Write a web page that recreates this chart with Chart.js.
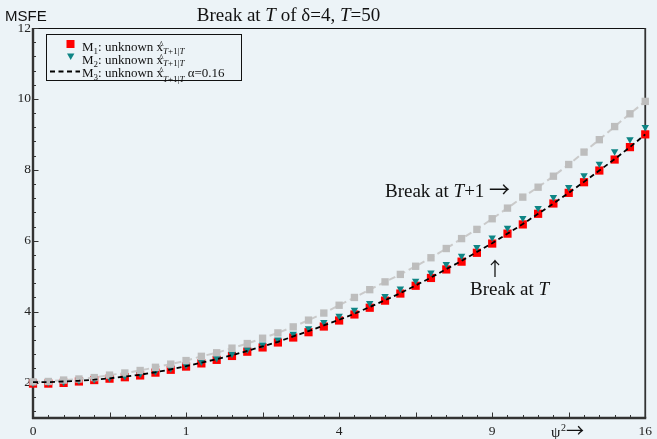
<!DOCTYPE html>
<html><head><meta charset="utf-8">
<script src="https://cdn.jsdelivr.net/npm/chart.js@4"></script>
<style>html,body{margin:0;padding:0;background:#ecf3f7;overflow:hidden}</style>
</head><body>
<canvas id="c" width="657" height="439"></canvas>
<script>
// psi values (x axis is psi, labelled psi^2)
const psi = [0.0,0.1,0.2,0.3,0.4,0.5,0.6,0.7,0.8,0.9,1.0,1.1,1.2,1.3,1.4,1.5,1.6,1.7,1.8,1.9,2.0,
             2.1,2.2,2.3,2.4,2.5,2.6,2.7,2.8,2.9,3.0,3.1,3.2,3.3,3.4,3.5,3.6,3.7,3.8,3.9,4.0];
const xTickPsi = [0,1,2,3,4];
const xTickLabels = ['0','1','4','9','16'];
const yTicks = [2,4,6,8,10,12];
// Break at T+1 (grey)
const breakT1 = [2.02,2.03,2.07,2.10,2.14,2.21,2.27,2.34,2.43,2.52,2.62,2.74,2.84,2.97,3.10,3.25,3.40,3.57,3.76,3.96,4.18,
                 4.40,4.62,4.84,5.05,5.28,5.52,5.78,6.06,6.32,6.62,6.92,7.23,7.51,7.82,8.15,8.50,8.85,9.22,9.58,9.93];
// M1 (red squares)
const m1 = [1.97,1.97,1.99,2.03,2.07,2.11,2.15,2.20,2.28,2.36,2.45,2.54,2.64,2.75,2.87,2.99,3.13,3.27,3.42,3.58,3.75,
            3.92,4.11,4.31,4.51,4.73,4.95,5.19,5.41,5.66,5.92,6.20,6.46,6.76,7.05,7.35,7.65,7.98,8.29,8.64,9.00];
// M2 (teal triangles)
const m2 = [1.99,2.00,2.02,2.05,2.09,2.13,2.18,2.24,2.31,2.40,2.49,2.59,2.69,2.81,2.93,3.07,3.21,3.37,3.53,3.70,3.88,
            4.05,4.24,4.44,4.65,4.87,5.10,5.34,5.57,5.82,6.09,6.36,6.64,6.92,7.23,7.51,7.84,8.17,8.52,8.86,9.20];
// M3 alpha=0.16 (black dashed)
const m3 = [2.01,2.01,2.03,2.05,2.08,2.12,2.17,2.22,2.29,2.37,2.46,2.56,2.66,2.77,2.89,3.02,3.15,3.30,3.45,3.61,3.77,
            3.94,4.13,4.32,4.52,4.74,4.96,5.20,5.43,5.68,5.93,6.20,6.47,6.76,7.05,7.35,7.66,7.98,8.30,8.64,9.00];

const SERIF = '"Liberation Serif", "DejaVu Serif", serif';
const ARROWF = '"Noto Sans CJK JP", "DejaVu Sans", sans-serif';
const toXY = arr => arr.map((v,i)=>({x:psi[i], y:v}));

function setFont(ctx,p){ ctx.font = (p.italic?'italic ':'') + p.size + 'px ' + (p.fam||SERIF); }
function rich(ctx, x, y, parts){
  let cx = x;
  for (const p of parts){
    setFont(ctx,p);
    ctx.fillText(p.t, cx + (p.dx||0), y + (p.dy||0));
    const w = ctx.measureText(p.t).width;
    if (p.hat){
      ctx.save();
      ctx.font = (p.size*0.75) + 'px ' + SERIF;
      ctx.textAlign = 'center';
      ctx.fillText('^', cx + w/2 + 1.5, y + (p.dy||0) - p.size*0.2);
      ctx.restore();
    }
    cx += w + (p.dx||0);
  }
  return cx;
}
function rwidth(ctx, parts){
  let w = 0;
  for (const p of parts){ setFont(ctx,p); w += ctx.measureText(p.t).width; }
  return w;
}
function line(ctx,x1,y1,x2,y2){ctx.beginPath();ctx.moveTo(x1,y1);ctx.lineTo(x2,y2);ctx.stroke();}

const framePlugin = {
  id:'frame',
  beforeDraw(chart){
    const ctx = chart.ctx;
    ctx.save(); ctx.fillStyle='#ecf3f7'; ctx.fillRect(0,0,chart.width,chart.height); ctx.restore();
  },
  beforeDatasetsDraw(chart){
    const {ctx, chartArea:{left,right,top,bottom}} = chart;
    const xs = chart.scales.x, ys = chart.scales.y;
    ctx.save();
    ctx.strokeStyle = '#111'; ctx.lineWidth = 1.2;
    line(ctx, left, top+0.5, right, top+0.5);
    ctx.strokeStyle = '#333'; ctx.lineWidth = 1.8;
    line(ctx, right, top, right, bottom);
    ctx.lineWidth = 2.4;
    line(ctx, left, top, left, bottom+1);
    line(ctx, left-1, bottom, right+1, bottom);
    ctx.lineWidth = 1;
    for (let k=3;k<=30;k++){
      const py = Math.round(ys.getPixelForValue(k*0.4))+0.5;
      const len = (k%5===0)?5.5:3;
      line(ctx, left, py, left+len, py);
    }
    for (let k=1;k<=40;k++){
      const px = Math.round(xs.getPixelForValue(k/10))+0.5;
      const len = (k%5===0)?5.5:3;
      line(ctx, px, bottom, px, bottom-len);
    }
    ctx.restore();
  },
  afterDraw(chart){
    const ctx = chart.ctx;
    ctx.save();
    ctx.fillStyle = '#111'; ctx.textBaseline = 'alphabetic';
    // y axis name
    ctx.font = '15px "Liberation Sans", Arial, sans-serif';
    ctx.fillText('MSFE', 5, 20.5);
    // title
    const tparts = [{t:'Break at ',size:19},{t:'T',size:19,italic:true},{t:' of δ=4, ',size:19},{t:'T',size:19,italic:true},{t:'=50',size:19}];
    const tw = rwidth(ctx,tparts);
    rich(ctx, 288.5 - tw/2, 20.5, tparts);
    // annotations
    rich(ctx, 385, 197, [{t:'Break at ',size:19},{t:'T',size:19,italic:true},{t:'+1 ',size:19},{t:'→',size:21,fam:ARROWF,dy:0}]);
    rich(ctx, 470, 295, [{t:'Break at ',size:19},{t:'T',size:19,italic:true}]);
    ctx.font = '19px ' + ARROWF; ctx.textAlign = 'center';
    ctx.fillText('↑', 495, 276);
    ctx.textAlign = 'left';
    // x axis name
    rich(ctx, 551, 437, [{t:'ψ',size:15}]);
    rich(ctx, 561, 431, [{t:'2',size:10}]);
    rich(ctx, 566, 437, [{t:'→',size:18,fam:ARROWF}]);
    // legend
    ctx.strokeStyle = '#111'; ctx.lineWidth = 1;
    ctx.strokeRect(46.5, 34.5, 195, 46);
    ctx.fillStyle = '#ff0000'; ctx.fillRect(66.5, 40, 8, 8);
    ctx.fillStyle = '#0f8585';
    ctx.beginPath(); ctx.moveTo(67, 53.5); ctx.lineTo(74.4, 53.5); ctx.lineTo(70.7, 60); ctx.closePath(); ctx.fill();
    ctx.strokeStyle='#000'; ctx.lineWidth=1.8; ctx.setLineDash([5,3.5]);
    line(ctx, 50, 71.5, 80, 71.5); ctx.setLineDash([]);
    ctx.fillStyle = '#111';
    const rows = [['1',50.5,3],['2',63.5,2.5],['3',76.5,5.5]];
    rows.forEach(([d,by,sd])=>{
      const parts = [{t:'M',size:13},{t:d,size:9,dy:3},{t:': unknown ',size:13},{t:'x',size:13,hat:true},
                     {t:'T',size:9,italic:true,dy:sd},{t:'+1|',size:9,dy:sd},{t:'T',size:9,italic:true,dy:sd}];
      if (d==='3') parts.push({t:' α=0.16',size:13});
      rich(ctx, 82, by, parts);
    });
    ctx.restore();
  }
};

new Chart(document.getElementById('c'), {
  type:'line',
  data:{
    datasets:[
      {label:'M3', data:toXY(m3), borderColor:'#000', borderWidth:1.8, borderDash:[5,3.5], pointRadius:0, order:0, clip:false},
      {label:'Break at T+1', data:toXY(breakT1), borderColor:'#cacaca', borderWidth:2, borderDash:[7,4],
        pointStyle:'rect', pointRadius:5.2, pointBackgroundColor:'#bdbdbd', pointBorderWidth:0, order:1, clip:false},
      {label:'M2', data:toXY(m2), showLine:false, pointStyle:'triangle', rotation:180, pointRotation:180, pointRadius:4.3,
        pointBackgroundColor:'#0f8585', pointBorderWidth:0, order:2, clip:false},
      {label:'M1', data:toXY(m1), showLine:false, pointStyle:'rect', pointRadius:5.8,
        pointBackgroundColor:'#ff0000', pointBorderWidth:0, order:3, clip:false}
    ]
  },
  options:{
    responsive:false, animation:false, events:[], devicePixelRatio:1,
    layout:{padding:{left:0,right:8,top:28,bottom:0}},
    plugins:{legend:{display:false}, tooltip:{enabled:false}, title:{display:false}},
    elements:{line:{tension:0}},
    scales:{
      x:{type:'linear', min:0, max:4,
        afterFit(s){ s.height = 21; },
        afterBuildTicks(s){ s.ticks = xTickPsi.map(v=>({value:v})); },
        ticks:{autoSkip:false, maxRotation:0, padding:5, color:'#222', font:{family:SERIF,size:13.5},
          callback:(v,i)=>xTickLabels[i]},
        grid:{display:false, drawTicks:false}, border:{display:false}},
      y:{type:'linear', min:1, max:12,
        afterFit(s){ s.width = 33; },
        afterBuildTicks(s){ s.ticks = yTicks.map(v=>({value:v})); },
        ticks:{autoSkip:false, padding:2, color:'#222', font:{family:SERIF,size:13.5}},
        grid:{display:false, drawTicks:false}, border:{display:false}}
    }
  },
  plugins:[framePlugin]
});
</script>
</body></html>
